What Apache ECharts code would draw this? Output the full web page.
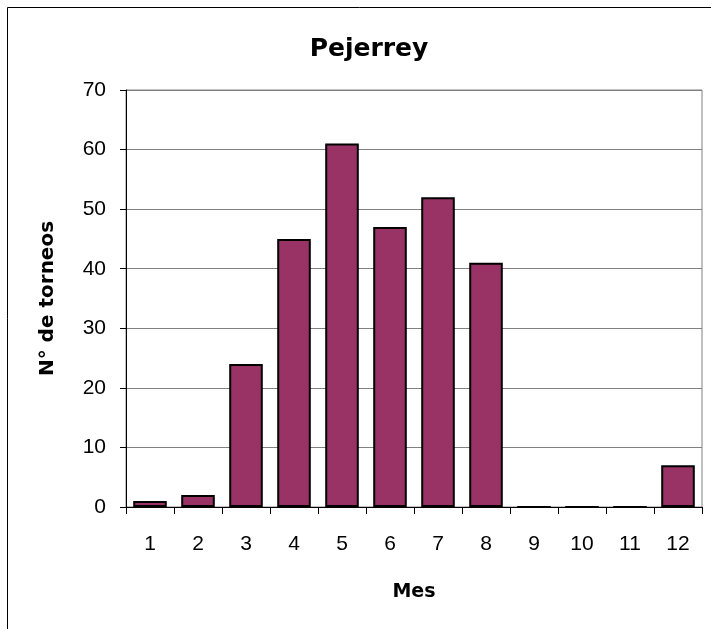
<!DOCTYPE html>
<html>
<head>
<meta charset="utf-8">
<script src="https://cdn.jsdelivr.net/npm/echarts@6/dist/echarts.min.js"></script>
<style>
  html, body { margin: 0; padding: 0; background: #fff; }
  #chart { width: 711px; height: 629px; }
</style>
</head>
<body>
<div id="chart"></div>
<script>
  // datos
  var meses = ['1', '2', '3', '4', '5', '6', '7', '8', '9', '10', '11', '12'];
  var torneos = [1, 2, 24, 45, 61, 47, 52, 41, 0, 0, 0, 7];
  var tituloTxt = 'Pejerrey';
  var ejeX = 'Mes';
  var ejeY = 'N° de torneos';

  var fuente = '"Liberation Sans", Arial, sans-serif';
  var fuenteNegrita = '"DejaVu Sans", sans-serif';
  var chart = echarts.init(document.getElementById('chart'));

  var option = {
    animation: false,
    backgroundColor: '#fff',
    title: {
      text: tituloTxt,
      left: 364,
      textAlign: 'center',
      top: 32,
      textStyle: { fontFamily: fuenteNegrita, fontSize: 25, fontWeight: 'bold', color: '#000' }
    },
    graphic: [{
      type: 'rect',
      shape: { x: 7.5, y: 7.5, width: 720, height: 640 },
      style: { fill: 'none', stroke: '#000', lineWidth: 1 },
      silent: true
    }],
    grid: {
      left: 126,
      right: 9,
      top: 90,
      bottom: 122,
      show: true,
      borderColor: '#808080',
      borderWidth: 1,
      backgroundColor: 'transparent'
    },
    xAxis: {
      type: 'category',
      data: meses,
      name: ejeX,
      nameLocation: 'middle',
      nameGap: 76,
      nameTextStyle: { fontFamily: fuenteNegrita, fontSize: 19, fontWeight: 'bold', color: '#000' },
      axisLine: { lineStyle: { color: '#000', width: 1 } },
      axisTick: { show: true, length: 7, alignWithLabel: false, lineStyle: { color: '#000' } },
      axisLabel: { fontFamily: fuente, fontSize: 21, color: '#000', margin: 27 }
    },
    yAxis: {
      type: 'value',
      min: 0,
      max: 70,
      interval: 10,
      name: ejeY,
      nameLocation: 'middle',
      nameGap: 68,
      nameTextStyle: { fontFamily: fuenteNegrita, fontSize: 20, fontWeight: 'bold', color: '#000' },
      axisLine: { show: true, lineStyle: { color: '#000', width: 1 } },
      axisTick: { show: true, length: 6, lineStyle: { color: '#000' } },
      axisLabel: { fontFamily: fuente, fontSize: 21, color: '#000', margin: 20 },
      splitLine: { lineStyle: { color: '#808080', width: 1 } }
    },
    series: [{
      type: 'bar',
      data: torneos,
      barCategoryGap: '30%',
      itemStyle: { color: '#993366', borderColor: '#000', borderWidth: 2 }
    }]
  };

  chart.setOption(option);
</script>
</body>
</html>
